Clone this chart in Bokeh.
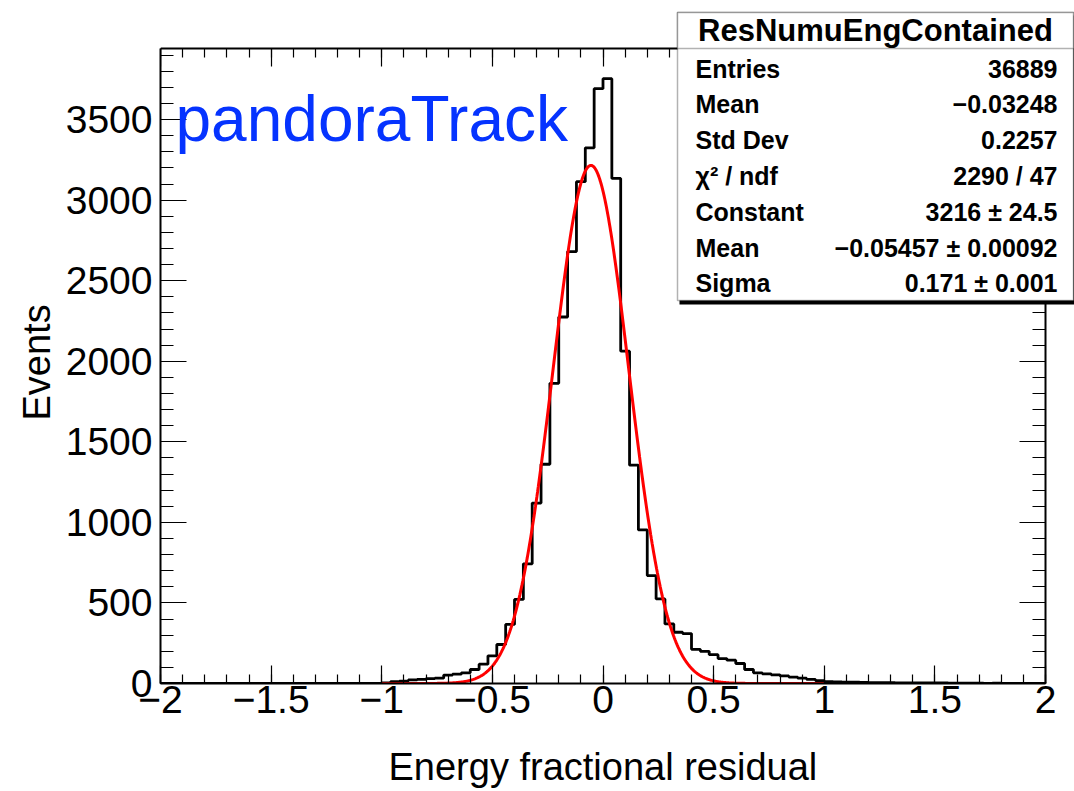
import numpy as np
from bokeh.plotting import figure
from bokeh.models import (FixedTicker, LinearAxis, Range1d, Label, BoxAnnotation,
                          CustomJSTickFormatter, ColumnDataSource, Title)
from bokeh.embed import file_html
from bokeh.resources import INLINE

# ---------------- data ----------------
bin_low = -2.0
bin_high = 2.0
n_bins = 100
counts = [
    0, 0, 0, 0, 0, 0, 0, 0, 0, 0,
    0, 0, 0, 0, 0, 0, 0, 0, 0, 0,
    0, 0, 0, 0, 0, 4, 12, 15, 22, 26,
    30, 33, 52, 58, 66, 87, 120, 172, 242, 367,
    522, 743, 1120, 1361, 1863, 2275, 2681, 3115, 3325, 3692,
    3754, 3135, 2063, 1355, 953, 670, 525, 370, 318, 310,
    212, 200, 179, 155, 145, 124, 87, 66, 60, 54,
    47, 40, 33, 26, 18, 12, 10, 9, 8, 7,
    6, 5, 5, 4, 4, 3, 3, 3, 3, 2,
    2, 2, 2, 1, 2, 1, 1, 1, 1, 1,
]
fit_constant = 3216.0
fit_mean = -0.05457
fit_sigma = 0.171
fit_low = -1.0
fit_high = 1.0

x_major = [-2, -1.5, -1, -0.5, 0, 0.5, 1, 1.5, 2]
x_minor = [round(-2 + 0.1 * k, 2) for k in range(41)]
y_major = [0, 500, 1000, 1500, 2000, 2500, 3000, 3500]
y_minor = [100 * k for k in range(40)]
y_max = 3942

title_text = "pandoraTrack"
x_title = "Energy fractional residual"
y_title = "Events"
stats_title = "ResNumuEngContained"
stats_labels = ["Entries", "Mean", "Std Dev", "\u03c7\u00b2 / ndf", "Constant", "Mean", "Sigma"]
stats_values = ["36889", "\u22120.03248", "0.2257", "2290 / 47", "3216 \u00b1 24.5",
                "\u22120.05457 \u00b1 0.00092", "0.171 \u00b1 0.001"]

# ---------------- layout (pixels) ----------------
W, H = 1074, 791
FR_L, FR_R, FR_T, FR_B = 160, 1045, 48, 684   # ROOT frame on the canvas

# the Bokeh frame spans up to the canvas top/right so the stats box is not clipped
x_end = bin_high + (bin_high - bin_low) * (W - FR_R) / (FR_R - FR_L)
y_end = y_max * FR_B / (FR_B - FR_T)

edges = np.linspace(bin_low, bin_high, n_bins + 1)
step_src = ColumnDataSource(dict(x=edges, y=list(counts) + [0]))
fx = np.linspace(fit_low, fit_high, 600)
fy = fit_constant * np.exp(-0.5 * ((fx - fit_mean) / fit_sigma) ** 2)
fit_src = ColumnDataSource(dict(x=fx, y=fy))

FONT = "Liberation Sans"

p = figure(width=W, height=H, x_range=Range1d(bin_low, x_end),
           y_range=Range1d(0, y_end), output_backend="svg", toolbar_location=None,
           title=None, min_border_left=FR_L, min_border_right=0, min_border_top=0,
           min_border_bottom=H - FR_B)
p.grid.visible = False
p.background_fill_color = "white"
p.border_fill_color = "white"
p.outline_line_color = None

minus_fmt = CustomJSTickFormatter(code="return tick < 0 ? '\\u2212' + Math.abs(tick) : '' + tick;")

xa = p.xaxis[0]
xa.ticker = FixedTicker(ticks=x_major, minor_ticks=x_minor)
xa.bounds = (bin_low, bin_high)
xa.formatter = minus_fmt
xa.axis_line_width = 2
xa.major_tick_in = 18
xa.major_tick_out = 0
xa.minor_tick_in = 9
xa.minor_tick_out = 0
xa.major_tick_line_width = 1.2
xa.minor_tick_line_width = 1.2
xa.major_label_text_font = FONT
xa.major_label_text_font_size = "39px"
xa.major_label_text_color = "black"
xa.major_label_standoff = 2
# invisible spacer label: pushes the visible title (below) down
xa.axis_label = x_title
xa.axis_label_text_color = None
xa.axis_label_text_font_size = "1px"
xa.axis_label_standoff = 21

ya = p.yaxis[0]
ya.ticker = FixedTicker(ticks=y_major, minor_ticks=y_minor)
ya.bounds = (0, y_max)
ya.axis_line_width = 2
ya.major_tick_in = 26
ya.major_tick_out = 0
ya.minor_tick_in = 13
ya.minor_tick_out = 0
ya.major_tick_line_width = 1.2
ya.minor_tick_line_width = 1.2
ya.major_label_text_font = FONT
ya.major_label_text_font_size = "39px"
ya.major_label_text_color = "black"
ya.major_label_standoff = 8

# axis titles, centred on the ROOT frame (not on the wider Bokeh frame)
p.add_layout(Title(text=x_title, align="left", offset=228, vertical_align="bottom",
                   standoff=7, text_font=FONT, text_font_size="38px",
                   text_font_style="normal", text_color="black"), "below")
p.add_layout(Title(text=y_title, align="left", offset=263, vertical_align="bottom",
                   standoff=10, text_font=FONT, text_font_size="38px",
                   text_font_style="normal", text_color="black"), "left")

# top and right frame edges with inward ticks
top_axis = LinearAxis(ticker=FixedTicker(ticks=x_major, minor_ticks=x_minor),
                      fixed_location=y_max, bounds=(bin_low, bin_high),
                      major_label_text_color=None, major_label_text_font_size="10px",
                      major_label_standoff=0,
                      axis_line_width=2, major_tick_in=18, major_tick_out=0,
                      minor_tick_in=9, minor_tick_out=0,
                      major_tick_line_width=1.2, minor_tick_line_width=1.2)
p.add_layout(top_axis, "above")
right_axis = LinearAxis(ticker=FixedTicker(ticks=y_major, minor_ticks=y_minor),
                        fixed_location=bin_high, bounds=(0, y_max),
                        major_label_text_color=None, major_label_text_font_size="10px",
                        major_label_standoff=0,
                        axis_line_width=2, major_tick_in=26, major_tick_out=0,
                        minor_tick_in=13, minor_tick_out=0,
                        major_tick_line_width=1.2, minor_tick_line_width=1.2)
p.add_layout(right_axis, "right")

p.step("x", "y", source=step_src, mode="after", line_color="black", line_width=2.8)
p.line("x", "y", source=fit_src, line_color="#ff0000", line_width=3)

p.add_layout(Label(x=175, y=118, x_units="canvas", y_units="canvas", text=title_text,
                   text_font=FONT, text_font_size="64px", text_color="#0533ff",
                   text_baseline="middle", text_align="left"))

# stats box
box_l, box_r, box_t, box_sep, box_b = 677, 1073, 12, 48, 300
CAN = dict(left_units="canvas", right_units="canvas", top_units="canvas",
           bottom_units="canvas", level="overlay")
p.add_layout(BoxAnnotation(left=box_l + 2, right=box_r + 3, top=box_t + 3, bottom=box_b + 4,
                           fill_color="black", fill_alpha=1, line_color=None, **CAN))
p.add_layout(BoxAnnotation(left=box_l, right=box_r, top=box_t, bottom=box_b,
                           fill_color="white", fill_alpha=1, line_color="black",
                           line_width=1.5, **CAN))
p.add_layout(BoxAnnotation(left=box_l, right=box_r, top=box_t, bottom=box_sep,
                           fill_color="white", fill_alpha=1, line_color="black",
                           line_width=1.5, **CAN))
LCAN = dict(x_units="canvas", y_units="canvas", level="overlay", text_color="black")
p.add_layout(Label(x=(box_l + box_r) / 2, y=30, text=stats_title, text_font=FONT,
                   text_font_size="31px", text_font_style="bold", text_align="center",
                   text_baseline="middle", **LCAN))
row0, row_step = 68, 35.8
for i, (lab, val) in enumerate(zip(stats_labels, stats_values)):
    yy = row0 + i * row_step
    p.add_layout(Label(x=695, y=yy, text=lab, text_font=FONT, text_font_size="25px",
                       text_font_style="bold", text_align="left",
                       text_baseline="middle", **LCAN))
    p.add_layout(Label(x=1057, y=yy, text=val, text_font=FONT, text_font_size="25px",
                       text_font_style="bold", text_align="right",
                       text_baseline="middle", **LCAN))

open("out.html", "w").write(file_html(p, INLINE))
